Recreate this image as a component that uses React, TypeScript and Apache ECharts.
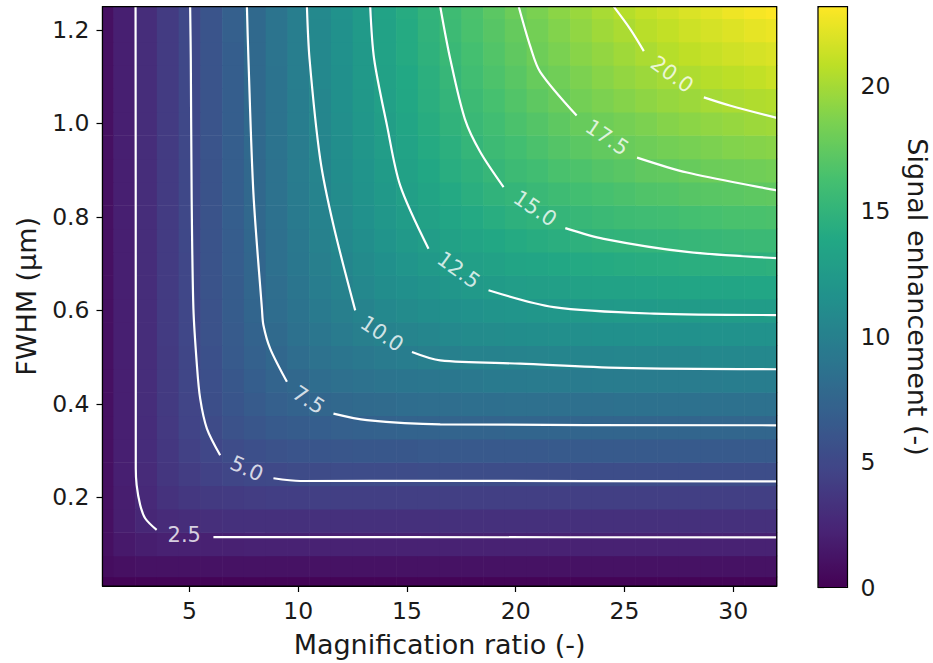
import React, { useEffect, useRef } from 'react';
import * as echarts from 'echarts';

// Sample positions of the background field
const magnification = [1, 2, 3, 4, 5, 6, 7, 8, 9, 10, 11, 12, 13, 14, 15, 16, 17, 18, 19, 20, 21, 22, 23, 24, 25, 26, 27, 28, 29, 30, 31, 32];
const fwhm = [0.01, 0.05, 0.1, 0.15, 0.2, 0.25, 0.3, 0.35, 0.4, 0.45, 0.5, 0.55, 0.6, 0.65, 0.7, 0.75, 0.8, 0.85, 0.9, 0.95, 1.0, 1.05, 1.1, 1.15, 1.2, 1.25];

// Signal enhancement, one row per FWHM value (same order as fwhm), one column per magnification
const signalEnhancement = [
  [0.2, 0.2, 0.2, 0.2, 0.2, 0.2, 0.2, 0.2, 0.2, 0.2, 0.2, 0.2, 0.2, 0.2, 0.2, 0.2, 0.2, 0.2, 0.2, 0.2, 0.2, 0.2, 0.2, 0.2, 0.2, 0.2, 0.2, 0.2, 0.2, 0.2, 0.2, 0.2],
  [0.8, 1.0, 1.1, 1.1, 1.1, 1.1, 1.1, 1.1, 1.1, 1.1, 1.1, 1.1, 1.1, 1.1, 1.1, 1.1, 1.1, 1.1, 1.1, 1.1, 1.1, 1.1, 1.1, 1.1, 1.1, 1.1, 1.1, 1.1, 1.1, 1.1, 1.1, 1.1],
  [1.0, 1.6, 1.9, 2.1, 2.1, 2.1, 2.1, 2.2, 2.2, 2.2, 2.2, 2.2, 2.2, 2.2, 2.2, 2.2, 2.2, 2.2, 2.2, 2.2, 2.2, 2.2, 2.2, 2.2, 2.2, 2.2, 2.2, 2.2, 2.2, 2.2, 2.2, 2.2],
  [1.0, 1.9, 2.5, 2.8, 3.0, 3.1, 3.2, 3.2, 3.2, 3.2, 3.2, 3.2, 3.2, 3.2, 3.2, 3.2, 3.2, 3.2, 3.2, 3.2, 3.2, 3.2, 3.2, 3.2, 3.2, 3.2, 3.2, 3.2, 3.2, 3.2, 3.2, 3.2],
  [1.0, 1.9, 2.7, 3.3, 3.7, 3.9, 4.0, 4.1, 4.2, 4.2, 4.3, 4.3, 4.3, 4.3, 4.3, 4.3, 4.3, 4.3, 4.3, 4.3, 4.3, 4.3, 4.3, 4.3, 4.3, 4.3, 4.3, 4.3, 4.3, 4.3, 4.3, 4.3],
  [1.0, 2.0, 2.8, 3.6, 4.1, 4.5, 4.8, 5.0, 5.1, 5.2, 5.2, 5.3, 5.3, 5.3, 5.3, 5.4, 5.4, 5.4, 5.4, 5.4, 5.4, 5.4, 5.4, 5.4, 5.4, 5.4, 5.4, 5.4, 5.4, 5.4, 5.4, 5.4],
  [1.0, 2.0, 2.9, 3.7, 4.4, 4.9, 5.3, 5.6, 5.8, 6.0, 6.1, 6.2, 6.3, 6.3, 6.3, 6.4, 6.4, 6.4, 6.4, 6.4, 6.4, 6.5, 6.5, 6.5, 6.5, 6.5, 6.5, 6.5, 6.5, 6.5, 6.5, 6.5],
  [1.0, 2.0, 2.9, 3.8, 4.6, 5.2, 5.8, 6.2, 6.5, 6.7, 6.9, 7.0, 7.1, 7.2, 7.3, 7.3, 7.4, 7.4, 7.4, 7.5, 7.5, 7.5, 7.5, 7.5, 7.5, 7.5, 7.5, 7.5, 7.6, 7.6, 7.6, 7.6],
  [1.0, 2.0, 3.0, 3.9, 4.7, 5.5, 6.1, 6.6, 7.0, 7.3, 7.6, 7.8, 8.0, 8.1, 8.2, 8.3, 8.3, 8.4, 8.4, 8.5, 8.5, 8.5, 8.5, 8.5, 8.6, 8.6, 8.6, 8.6, 8.6, 8.6, 8.6, 8.6],
  [1.0, 2.0, 3.0, 3.9, 4.8, 5.6, 6.3, 6.9, 7.4, 7.8, 8.2, 8.5, 8.7, 8.9, 9.0, 9.1, 9.2, 9.3, 9.4, 9.4, 9.5, 9.5, 9.5, 9.6, 9.6, 9.6, 9.6, 9.6, 9.6, 9.7, 9.7, 9.7],
  [1.0, 2.0, 3.0, 3.9, 4.8, 5.7, 6.5, 7.1, 7.7, 8.2, 8.7, 9.0, 9.3, 9.5, 9.7, 9.9, 10.0, 10.2, 10.2, 10.3, 10.4, 10.5, 10.5, 10.5, 10.6, 10.6, 10.6, 10.6, 10.7, 10.7, 10.7, 10.7],
  [1.0, 2.0, 3.0, 4.0, 4.9, 5.8, 6.6, 7.3, 8.0, 8.6, 9.1, 9.5, 9.9, 10.2, 10.4, 10.6, 10.8, 11.0, 11.1, 11.2, 11.3, 11.4, 11.4, 11.5, 11.5, 11.6, 11.6, 11.6, 11.7, 11.7, 11.7, 11.7],
  [1.0, 2.0, 3.0, 4.0, 4.9, 5.8, 6.7, 7.5, 8.2, 8.8, 9.4, 9.9, 10.3, 10.7, 11.0, 11.3, 11.5, 11.7, 11.9, 12.0, 12.1, 12.2, 12.3, 12.4, 12.5, 12.5, 12.6, 12.6, 12.6, 12.7, 12.7, 12.7],
  [1.0, 2.0, 3.0, 4.0, 4.9, 5.9, 6.7, 7.6, 8.3, 9.0, 9.7, 10.2, 10.7, 11.2, 11.5, 11.8, 12.1, 12.4, 12.6, 12.8, 12.9, 13.0, 13.2, 13.3, 13.3, 13.4, 13.5, 13.6, 13.6, 13.6, 13.7, 13.7],
  [1.0, 2.0, 3.0, 4.0, 4.9, 5.9, 6.8, 7.6, 8.5, 9.2, 9.9, 10.5, 11.0, 11.5, 12.0, 12.4, 12.7, 13.0, 13.2, 13.5, 13.6, 13.8, 14.0, 14.1, 14.2, 14.3, 14.4, 14.5, 14.5, 14.6, 14.6, 14.7],
  [1.0, 2.0, 3.0, 4.0, 5.0, 5.9, 6.8, 7.7, 8.5, 9.3, 10.1, 10.7, 11.3, 11.9, 12.4, 12.8, 13.2, 13.5, 13.8, 14.1, 14.3, 14.5, 14.7, 14.9, 15.0, 15.1, 15.2, 15.3, 15.4, 15.5, 15.6, 15.6],
  [1.0, 2.0, 3.0, 4.0, 5.0, 5.9, 6.9, 7.8, 8.6, 9.4, 10.2, 10.9, 11.6, 12.2, 12.7, 13.2, 13.6, 14.0, 14.4, 14.7, 14.9, 15.2, 15.4, 15.6, 15.8, 15.9, 16.0, 16.2, 16.3, 16.4, 16.4, 16.5],
  [1.0, 2.0, 3.0, 4.0, 5.0, 5.9, 6.9, 7.8, 8.7, 9.5, 10.3, 11.1, 11.8, 12.4, 13.0, 13.5, 14.0, 14.5, 14.9, 15.2, 15.5, 15.8, 16.1, 16.3, 16.5, 16.7, 16.8, 17.0, 17.1, 17.2, 17.3, 17.4],
  [1.0, 2.0, 3.0, 4.0, 5.0, 5.9, 6.9, 7.8, 8.7, 9.6, 10.4, 11.2, 11.9, 12.6, 13.2, 13.8, 14.4, 14.8, 15.3, 15.7, 16.0, 16.4, 16.6, 16.9, 17.1, 17.4, 17.5, 17.7, 17.9, 18.0, 18.1, 18.2],
  [1.0, 2.0, 3.0, 4.0, 5.0, 6.0, 6.9, 7.9, 8.8, 9.6, 10.5, 11.3, 12.1, 12.8, 13.4, 14.1, 14.6, 15.2, 15.7, 16.1, 16.5, 16.9, 17.2, 17.5, 17.8, 18.0, 18.2, 18.4, 18.6, 18.8, 18.9, 19.0],
  [1.0, 2.0, 3.0, 4.0, 5.0, 6.0, 6.9, 7.9, 8.8, 9.7, 10.6, 11.4, 12.2, 12.9, 13.6, 14.3, 14.9, 15.5, 16.0, 16.5, 16.9, 17.3, 17.7, 18.0, 18.3, 18.6, 18.9, 19.1, 19.3, 19.5, 19.7, 19.8],
  [1.0, 2.0, 3.0, 4.0, 5.0, 6.0, 6.9, 7.9, 8.8, 9.7, 10.6, 11.5, 12.3, 13.1, 13.8, 14.5, 15.1, 15.7, 16.3, 16.8, 17.3, 17.8, 18.2, 18.6, 18.9, 19.2, 19.5, 19.7, 20.0, 20.2, 20.4, 20.5],
  [1.0, 2.0, 3.0, 4.0, 5.0, 6.0, 6.9, 7.9, 8.8, 9.8, 10.7, 11.5, 12.4, 13.2, 13.9, 14.6, 15.3, 16.0, 16.6, 17.1, 17.7, 18.1, 18.6, 19.0, 19.4, 19.7, 20.0, 20.3, 20.6, 20.8, 21.0, 21.3],
  [1.0, 2.0, 3.0, 4.0, 5.0, 6.0, 6.9, 7.9, 8.9, 9.8, 10.7, 11.6, 12.4, 13.3, 14.1, 14.8, 15.5, 16.2, 16.8, 17.4, 18.0, 18.5, 19.0, 19.4, 19.8, 20.2, 20.6, 20.9, 21.2, 21.5, 21.7, 21.9],
  [1.0, 2.0, 3.0, 4.0, 5.0, 6.0, 7.0, 7.9, 8.9, 9.8, 10.7, 11.6, 12.5, 13.3, 14.1, 14.9, 15.7, 16.4, 17.0, 17.6, 18.2, 18.8, 19.3, 19.8, 20.2, 20.7, 21.0, 21.4, 21.7, 22.0, 22.3, 22.5],
  [1.0, 2.0, 3.0, 4.0, 5.0, 6.0, 7.0, 7.9, 8.9, 9.8, 10.8, 11.7, 12.5, 13.4, 14.2, 15.0, 15.8, 16.5, 17.2, 17.9, 18.5, 19.1, 19.6, 20.1, 20.6, 21.1, 21.5, 21.9, 22.2, 22.6, 22.9, 23.1],
];

// Contour lines: [magnification, FWHM], split where the label sits
const c25Before = [[2.52, 1.25], [2.53, 0.6], [2.53, 0.262], [2.57, 0.226], [2.73, 0.184], [2.96, 0.155], [3.49, 0.13]];
const c25After = [[6.1, 0.1145], [15, 0.1145], [32, 0.114]];
const c50Before = [[5.03, 1.25], [5.06, 1.138], [5.1, 0.84], [5.18, 0.604], [5.34, 0.483], [5.49, 0.4115], [5.8, 0.347], [6.41, 0.29]];
const c50After = [[8.86, 0.2406], [10.09, 0.2348], [16.53, 0.235], [32, 0.234]];
const c75Before = [[7.64, 1.25], [7.71, 1.138], [7.94, 0.85], [8.33, 0.604], [8.4, 0.568], [8.71, 0.518], [9.48, 0.447]];
const c75After = [[11.62, 0.379], [13.16, 0.365], [16.53, 0.356], [32, 0.354]];
const c100Before = [[10.4, 1.25], [10.52, 1.138], [11.01, 0.924], [11.62, 0.782], [12.62, 0.6]];
const c100After = [[15.23, 0.511], [16.53, 0.493], [20.21, 0.486], [24.82, 0.477], [32, 0.474]];
const c125Before = [[13.31, 1.25], [13.49, 1.138], [14.08, 0.996], [14.69, 0.867], [15.99, 0.732]];
const c125After = [[18.75, 0.643], [21.75, 0.607], [26.35, 0.593], [32, 0.59]];
const c150Before = [[16.53, 1.25], [16.99, 1.138], [17.66, 1.01], [18.37, 0.939], [19.44, 0.864]];
const c150After = [[22.28, 0.776], [24.05, 0.753], [27.88, 0.725], [32, 0.712]];
const c175Before = [[20.14, 1.25], [20.67, 1.165], [21.13, 1.11], [22.8, 1.017]];
const c175After = [[25.58, 0.927], [27.88, 0.895], [32, 0.857]];
const c200Before = [[24.51, 1.25], [25.28, 1.201], [25.89, 1.155]];
const c200After = [[28.65, 1.056], [29.88, 1.038], [32, 1.012]];

const contourSegments = [
  c25Before, c25After, c50Before, c50After, c75Before, c75After, c100Before, c100After,
  c125Before, c125After, c150Before, c150After, c175Before, c175After, c200Before, c200After,
];

const contourLabels = ['2.5', '5.0', '7.5', '10.0', '12.5', '15.0', '17.5', '20.0'];
const contourLabelPositions = [
  [4.76, 0.1195], [7.64, 0.262], [10.47, 0.408], [13.85, 0.55],
  [17.37, 0.686], [20.89, 0.818], [24.2, 0.97], [27.19, 1.105],
];
const contourLabelAngles = [0, -24, -33, -34, -36, -34, -34, -36];

const xTicks = [5, 10, 15, 20, 25, 30];
const yTicks = [0.2, 0.4, 0.6, 0.8, 1.0, 1.2];
const colorbarTicks = [0, 5, 10, 15, 20];

const viridis = ['#440154', '#482475', '#414487', '#355f8d', '#2a788e', '#21918c', '#22a884', '#44bf70', '#7ad151', '#bddf26', '#fde725'];

const FONT = 'DejaVu Sans';
const INK = '#1a1a1a';

export default function App() {
  const ref = useRef<HTMLDivElement>(null);

  useEffect(() => {
    if (!ref.current) return;
    const chart = echarts.init(ref.current, undefined, { renderer: 'svg' });

    const cells: number[][] = [];
    fwhm.forEach((f, j) => {
      magnification.forEach((m, i) => {
        cells.push([m, f, signalEnhancement[j][i], i, j]);
      });
    });

    const renderCell = (_params: any, api: any) => {
      const i = api.value(3) as number;
      const j = api.value(4) as number;
      const nM = magnification.length;
      const nF = fwhm.length;
      const x0 = i === 0 ? magnification[0] : (magnification[i - 1] + magnification[i]) / 2;
      const x1 = i === nM - 1 ? magnification[i] : (magnification[i] + magnification[i + 1]) / 2;
      const y0 = j === 0 ? fwhm[0] : (fwhm[j - 1] + fwhm[j]) / 2;
      const y1 = j === nF - 1 ? fwhm[j] : (fwhm[j] + fwhm[j + 1]) / 2;
      const tl = api.coord([x0, y1]);
      const br = api.coord([x1, y0]);
      return {
        type: 'rect',
        shape: { x: tl[0], y: tl[1], width: br[0] - tl[0] + 0.6, height: br[1] - tl[1] + 0.6 },
        style: { fill: api.visual('color') },
      };
    };

    const lineSeries = contourSegments.map((seg) => ({
      type: 'line',
      xAxisIndex: 0,
      yAxisIndex: 0,
      data: seg,
      symbol: 'none',
      showSymbol: false,
      smooth: 0.3,
      silent: true,
      z: 3,
      lineStyle: { color: '#ffffff', width: 2.2 },
    }));

    const labelData = contourLabels.map((name, k) => ({
      name,
      value: contourLabelPositions[k],
      label: { rotate: contourLabelAngles[k] },
    }));

    const axisLineStyle = { color: '#000', width: 1.2 };

    const option: any = {
      animation: false,
      backgroundColor: '#ffffff',
      textStyle: { fontFamily: FONT },
      grid: [
        { left: 102.5, top: 6.7, width: 674.2, height: 580.8, show: true, borderColor: '#000', borderWidth: 1.2, backgroundColor: 'transparent', z: 10 },
        { left: 818, top: 6.7, width: 29.5, height: 580.8, show: true, borderColor: '#000', borderWidth: 1.2, backgroundColor: 'transparent', z: 10 },
      ],
      xAxis: [
        {
          type: 'value', gridIndex: 0, min: 1, max: 32,
          axisLine: { show: true, lineStyle: axisLineStyle },
          axisTick: { show: true, length: 6, lineStyle: axisLineStyle, customValues: xTicks },
          axisLabel: { customValues: xTicks, fontSize: 23.5, color: INK, margin: 13, fontFamily: FONT },
          splitLine: { show: false },
          name: 'Magnification ratio (-)', nameLocation: 'middle', nameGap: 45,
          nameTextStyle: { fontSize: 27, color: INK, fontFamily: FONT },
        },
        { type: 'value', gridIndex: 1, min: 0, max: 1, show: false },
      ],
      yAxis: [
        {
          type: 'value', gridIndex: 0, min: 0.01, max: 1.25,
          axisLine: { show: true, lineStyle: axisLineStyle },
          axisTick: { show: true, length: 6, lineStyle: axisLineStyle, customValues: yTicks },
          axisLabel: { customValues: yTicks, fontSize: 23.5, color: INK, margin: 13, fontFamily: FONT, formatter: (v: number) => v.toFixed(1) },
          splitLine: { show: false },
          name: 'FWHM (µm)', nameLocation: 'middle', nameGap: 63, nameRotate: 90,
          nameTextStyle: { fontSize: 27, color: INK, fontFamily: FONT },
        },
        {
          type: 'value', gridIndex: 1, position: 'right', min: 0, max: 23.15,
          axisLine: { show: true, lineStyle: axisLineStyle },
          axisTick: { show: true, length: 6, lineStyle: axisLineStyle, customValues: colorbarTicks },
          axisLabel: { customValues: colorbarTicks, fontSize: 23.5, color: INK, margin: 13, fontFamily: FONT },
          splitLine: { show: false },
          name: 'Signal enhancement (-)', nameLocation: 'middle', nameGap: 56, nameRotate: -90,
          nameTextStyle: { fontSize: 27, color: INK, fontFamily: FONT },
        },
      ],
      visualMap: {
        type: 'continuous',
        min: 0,
        max: 23.15,
        dimension: 2,
        seriesIndex: 0,
        calculable: false,
        hoverLink: false,
        orient: 'vertical',
        left: 818,
        top: 6.7,
        itemWidth: 29.5,
        itemHeight: 580.8,
        padding: 0,
        inRange: { color: viridis },
      },
      series: [
        {
          type: 'custom',
          xAxisIndex: 0,
          yAxisIndex: 0,
          renderItem: renderCell,
          data: cells,
          dimensions: ['M', 'F', 'S', 'i', 'j'],
          encode: { x: 0, y: 1 },
          clip: true,
          silent: true,
          z: 1,
        },
        ...lineSeries,
        {
          type: 'scatter',
          xAxisIndex: 0,
          yAxisIndex: 0,
          data: labelData,
          symbolSize: 1,
          silent: true,
          z: 4,
          itemStyle: { color: 'rgba(0,0,0,0)' },
          label: {
            show: true,
            position: 'inside',
            formatter: '{b}',
            color: '#ffffff',
            fontSize: 21,
            fontFamily: FONT,
          },
        },
      ],
    };

    chart.setOption(option);
    return () => chart.dispose();
  }, []);

  return (
    <div
      ref={ref}
      style={{ position: 'absolute', left: 0, top: 0, width: 933, height: 663 }}
    />
  );
}
